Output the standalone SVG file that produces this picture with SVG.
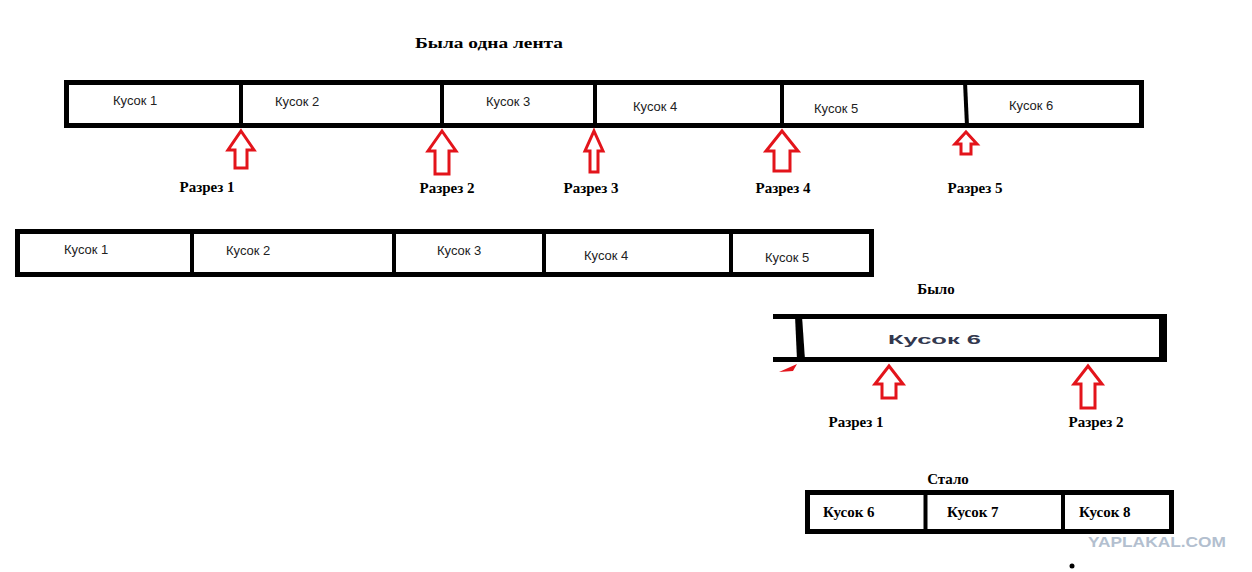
<svg xmlns="http://www.w3.org/2000/svg" width="1252" height="572" viewBox="0 0 1252 572">
<style>
.box{fill:#fff;stroke:#000;stroke-width:5}
.div{stroke:#000;stroke-width:4;fill:none}
.lbl{font-family:"Liberation Sans",Arial,sans-serif;font-size:13px;fill:#222}
.ser{font-family:"Liberation Serif","Times New Roman",serif;font-weight:bold;font-size:15px;fill:#000}
.arr{fill:#fff;stroke:#e3141b;stroke-width:3;stroke-linejoin:miter}
</style>
<rect width="1252" height="572" fill="#fff"/>
<g id="title"><text class="ser" x="415" y="48" font-size="19" textLength="148" lengthAdjust="spacingAndGlyphs">Была одна лента</text></g>

<g id="tape-top">
<rect class="box" x="66.5" y="82.5" width="1075" height="43"/>
<line class="div" x1="241" y1="82" x2="241" y2="126"/>
<line class="div" x1="442" y1="82" x2="442" y2="126"/>
<line class="div" x1="595" y1="82" x2="595" y2="126"/>
<line class="div" x1="782" y1="82" x2="782" y2="126"/>
<line class="div" x1="965" y1="82" x2="967" y2="126"/>
<text class="lbl" x="113" y="105">Кусок 1</text>
<text class="lbl" x="275" y="106">Кусок 2</text>
<text class="lbl" x="486" y="106">Кусок 3</text>
<text class="lbl" x="633" y="111">Кусок 4</text>
<text class="lbl" x="814" y="113">Кусок 5</text>
<text class="lbl" x="1009" y="110">Кусок 6</text>
</g>

<g id="connectors">
<path class="arr" d="M241,131 L254,150 L247,150 L247,168 L235,168 L235,150 L228,150 Z"/>
<path class="arr" d="M442,131 L456,151 L449,151 L449,174 L435,174 L435,151 L428,151 Z"/>
<path class="arr" d="M594,131 L603,151 L598,151 L598,172 L590,172 L590,151 L585,151 Z"/>
<path class="arr" d="M782,131 L798,151 L790,151 L790,171 L774,171 L774,151 L766,151 Z"/>
<path class="arr" d="M966,132 L977,144 L971,144 L971,154 L961,154 L961,144 L955,144 Z"/>
<path class="arr" d="M889,366 L903,384 L896,384 L896,398 L882,398 L882,384 L875,384 Z"/>
<path class="arr" d="M1088,366 L1102,384 L1095,384 L1095,408 L1081,408 L1081,384 L1074,384 Z"/>
</g>

<g id="cut-labels">
<text class="ser" x="207" y="192" text-anchor="middle">Разрез 1</text>
<text class="ser" x="447" y="193" text-anchor="middle">Разрез 2</text>
<text class="ser" x="591" y="193" text-anchor="middle">Разрез 3</text>
<text class="ser" x="783" y="193" text-anchor="middle">Разрез 4</text>
<text class="ser" x="975" y="193" text-anchor="middle">Разрез 5</text>
</g>

<g id="tape-second">
<rect class="box" x="17.5" y="231.5" width="854" height="43"/>
<line class="div" x1="192" y1="231" x2="192" y2="275"/>
<line class="div" x1="394" y1="231" x2="394" y2="275"/>
<line class="div" x1="544" y1="231" x2="544" y2="275"/>
<line class="div" x1="731" y1="231" x2="731" y2="275"/>
<text class="lbl" x="64" y="254">Кусок 1</text>
<text class="lbl" x="226" y="255">Кусок 2</text>
<text class="lbl" x="437" y="255">Кусок 3</text>
<text class="lbl" x="584" y="260">Кусок 4</text>
<text class="lbl" x="765" y="262">Кусок 5</text>
</g>

<g id="was">
<text class="ser" x="936" y="294" text-anchor="middle">Было</text>
<line stroke="#000" stroke-width="5" x1="773" y1="316.5" x2="1165" y2="316.5"/>
<line stroke="#000" stroke-width="5" x1="773" y1="359.5" x2="1165" y2="359.5"/>
<line stroke="#000" stroke-width="8" x1="1163" y1="314" x2="1163" y2="362"/>
<path d="M795,316 L802,316 L805,360 L797,360 Z" fill="#000"/>
<path d="M779,372 L797,364 L793,371 Z" fill="#e3141b"/>
<text x="888" y="344" font-family="Liberation Sans,Arial,sans-serif" font-weight="bold" font-size="12" fill="#33384e" textLength="93" lengthAdjust="spacingAndGlyphs">Кусок 6</text>
<text class="ser" x="856" y="427" text-anchor="middle">Разрез 1</text>
<text class="ser" x="1096" y="427" text-anchor="middle">Разрез 2</text>
</g>

<g id="became">
<text class="ser" x="948" y="484" text-anchor="middle">Стало</text>
<rect class="box" x="807.5" y="492.5" width="364" height="39"/>
<line class="div" x1="925.5" y1="492" x2="925.5" y2="532"/>
<line class="div" x1="1063" y1="492" x2="1063" y2="532"/>
<text class="ser" x="823" y="517" font-size="16">Кусок 6</text>
<text class="ser" x="947" y="517" font-size="16">Кусок 7</text>
<text class="ser" x="1079" y="517" font-size="16">Кусок 8</text>
</g>

<g id="watermark">
<text x="1088" y="547" font-family="Liberation Sans,Arial,sans-serif" font-weight="900" font-size="14" fill="#b3bfcf" textLength="138" lengthAdjust="spacingAndGlyphs">YAPLAKAL.COM</text>
<circle cx="1072" cy="566" r="2.5" fill="#000"/>
</g>
</svg>
